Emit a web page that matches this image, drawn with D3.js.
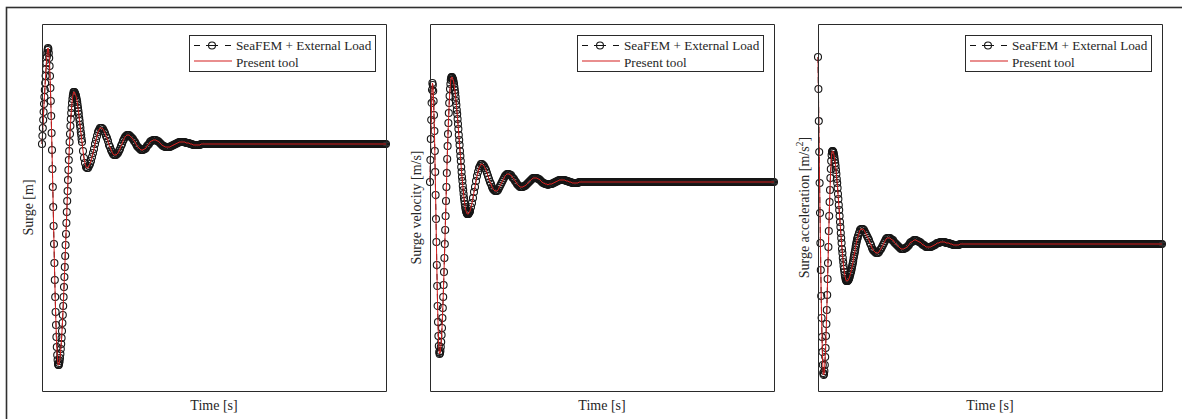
<!DOCTYPE html>
<html>
<head>
<meta charset="utf-8">
<script src="https://cdn.jsdelivr.net/npm/d3@7"></script>
<style>
  body { margin: 0; background: #fff; }
  text { font-family: "Liberation Serif", "Times New Roman", serif; fill: #262626; }
</style>
</head>
<body>
<svg id="chart" width="1182" height="419"></svg>
<script>
// sample times [s]: 0.1 s steps up to 10 s, then 0.25 s steps (8 per row = 2 s)
const time = [
  0,0.1,0.2,0.3,0.4,0.5,0.6,0.7,0.8,0.9,
  1,1.1,1.2,1.3,1.4,1.5,1.6,1.7,1.8,1.9,
  2,2.1,2.2,2.3,2.4,2.5,2.6,2.7,2.8,2.9,
  3,3.1,3.2,3.3,3.4,3.5,3.6,3.7,3.8,3.9,
  4,4.1,4.2,4.3,4.4,4.5,4.6,4.7,4.8,4.9,
  5,5.1,5.2,5.3,5.4,5.5,5.6,5.7,5.8,5.9,
  6,6.1,6.2,6.3,6.4,6.5,6.6,6.7,6.8,6.9,
  7,7.1,7.2,7.3,7.4,7.5,7.6,7.7,7.8,7.9,
  8,8.1,8.2,8.3,8.4,8.5,8.6,8.7,8.8,8.9,
  9,9.1,9.2,9.3,9.4,9.5,9.6,9.7,9.8,9.9,
  10,10.25,10.5,10.75,11,11.25,11.5,11.75,
  12,12.25,12.5,12.75,13,13.25,13.5,13.75,
  14,14.25,14.5,14.75,15,15.25,15.5,15.75,
  16,16.25,16.5,16.75,17,17.25,17.5,17.75,
  18,18.25,18.5,18.75,19,19.25,19.5,19.75,
  20,20.25,20.5,20.75,21,21.25,21.5,21.75,
  22,22.25,22.5,22.75,23,23.25,23.5,23.75,
  24,24.25,24.5,24.75,25,25.25,25.5,25.75,
  26,26.25,26.5,26.75,27,27.25,27.5,27.75,
  28,28.25,28.5,28.75,29,29.25,29.5,29.75,
  30,30.25,30.5,30.75,31,31.25,31.5,31.75,
  32,32.25,32.5,32.75,33,33.25,33.5,33.75,
  34,34.25,34.5,34.75,35,35.25,35.5,35.75,
  36,36.25,36.5,36.75,37,37.25,37.5,37.75,
  38,38.25,38.5,38.75,39,39.25,39.5,39.75,
  40,40.25,40.5,40.75,41,41.25,41.5,41.75,
  42,42.25,42.5,42.75,43,43.25,43.5,43.75,
  44,44.25,44.5,44.75,45,45.25,45.5,45.75,
  46,46.25,46.5,46.75,47,47.25,47.5,47.75,
  48,48.25,48.5,48.75,49,49.25,49.5,49.75,
  50,50.25,50.5,50.75,51,51.25,51.5,51.75,
  52,52.25,52.5,52.75,53,53.25,53.5,53.75,
  54,54.25,54.5,54.75,55,55.25,55.5,55.75,
  56,56.25,56.5,56.75,57,57.25,57.5,57.75,
  58,58.25,58.5,58.75,59,59.25,59.5,59.75,
  60,60.25,60.5,60.75,61,61.25,61.5,61.75,
  62,62.25,62.5,62.75,63,63.25,63.5,63.75,
  64,64.25,64.5,64.75,65,65.25,65.5,65.75,
  66,66.25,66.5,66.75,67,67.25,67.5,67.75,
  68,68.25,68.5,68.75,69,69.25,69.5,69.75,
  70,70.25,70.5,70.75,71,71.25,71.5,71.75,
  72,72.25,72.5,72.75,73,73.25,73.5,73.75,
  74,74.25,74.5,74.75,75,75.25,75.5,75.75,
  76,76.25,76.5,76.75,77,77.25,77.5,77.75,
  78,78.25,78.5,78.75,79,79.25,79.5,79.75,
  80,80.25,80.5,80.75,81,81.25,81.5,81.75,
  82,82.25,82.5,82.75,83,83.25,83.5,83.75,
  84,84.25,84.5,84.75,85,85.25,85.5,85.75,
  86
];

// surge [m]
const surge = [
  0,.08,.16,.24,.32,.40,.47,.54,.61,.68,
  .75,.81,.87,.91,.94,.96,.95,.91,.86,.78,
  .68,.56,.43,.28,.11,-.06,-.25,-.43,-.63,-.82,
  -1.00,-1.19,-1.36,-1.53,-1.68,-1.81,-1.93,-2.03,-2.11,-2.16,
  -2.20,-2.21,-2.21,-2.19,-2.17,-2.14,-2.10,-2.05,-2.00,-1.94,
  -1.87,-1.79,-1.71,-1.62,-1.53,-1.43,-1.33,-1.23,-1.12,-1.01,
  -.90,-.79,-.68,-.57,-.47,-.36,-.26,-.16,-.07,.02,
  .10,.18,.25,.31,.36,.41,.45,.48,.50,.52,
  .52,.52,.51,.50,.49,.48,.46,.44,.42,.39,
  .36,.33,.30,.26,.23,.19,.16,.12,.09,.05,
  .02,-.07,-.14,-.19,-.23,-.24,-.24,-.22,
  -.20,-.17,-.13,-.09,-.05,0,.04,.08,
  .12,.14,.16,.16,.16,.15,.13,.11,
  .08,.06,.03,-.01,-.03,-.06,-.08,-.10,
  -.11,-.11,-.11,-.10,-.09,-.07,-.05,-.02,
  0,.03,.05,.07,.08,.09,.09,.09,
  .08,.07,.06,.05,.03,.02,0,-.02,
  -.03,-.04,-.05,-.06,-.06,-.06,-.05,-.05,
  -.04,-.02,-.01,0,.02,.03,.03,.04,
  .04,.04,.04,.03,.03,.02,.01,0,
  -.01,-.02,-.02,-.03,-.03,-.03,-.03,-.03,
  -.03,-.02,-.02,-.01,-.01,0,0,.01,
  .01,.02,.02,.02,.02,.02,.02,.02,
  .01,.01,.01,.01,0,0,0,-.01,
  -.01,-.01,-.01,-.01,-.01,-.01,-.01,0,
  0,0,0,0,0,0,0,0,
  0,0,0,0,0,0,0,0,
  0,0,0,0,0,0,0,0,
  0,0,0,0,0,0,0,0,
  0,0,0,0,0,0,0,0,
  0,0,0,0,0,0,0,0,
  0,0,0,0,0,0,0,0,
  0,0,0,0,0,0,0,0,
  0,0,0,0,0,0,0,0,
  0,0,0,0,0,0,0,0,
  0,0,0,0,0,0,0,0,
  0,0,0,0,0,0,0,0,
  0,0,0,0,0,0,0,0,
  0,0,0,0,0,0,0,0,
  0,0,0,0,0,0,0,0,
  0,0,0,0,0,0,0,0,
  0,0,0,0,0,0,0,0,
  0,0,0,0,0,0,0,0,
  0,0,0,0,0,0,0,0,
  0,0,0,0,0,0,0,0,
  0,0,0,0,0,0,0,0,
  0,0,0,0,0,0,0,0,
  0,0,0,0,0,0,0,0,
  0
];

// surge velocity [m/s]
const surgeVelocity = [
  0,.22,.43,.62,.79,.92,.99,.97,.91,.81,
  .67,.51,.31,.10,-.13,-.37,-.60,-.83,-1.04,-1.24,
  -1.40,-1.54,-1.64,-1.70,-1.72,-1.71,-1.69,-1.65,-1.60,-1.53,
  -1.46,-1.36,-1.26,-1.15,-1.03,-.90,-.76,-.62,-.48,-.34,
  -.19,-.05,.09,.23,.36,.48,.59,.69,.79,.86,
  .93,.98,1.02,1.04,1.05,1.05,1.04,1.03,1.02,1.00,
  .98,.95,.92,.89,.85,.81,.77,.72,.68,.63,
  .58,.53,.47,.42,.37,.31,.26,.21,.15,.10,
  .05,.01,-.04,-.08,-.12,-.16,-.19,-.22,-.25,-.27,
  -.29,-.30,-.31,-.32,-.32,-.32,-.32,-.31,-.30,-.30,
  -.29,-.25,-.21,-.16,-.10,-.05,.01,.06,
  .10,.14,.16,.18,.18,.17,.16,.14,
  .12,.09,.06,.03,0,-.02,-.05,-.07,
  -.08,-.09,-.09,-.09,-.08,-.06,-.04,-.02,
  0,.02,.04,.06,.07,.08,.08,.08,
  .07,.07,.05,.04,.03,.01,0,-.02,
  -.03,-.04,-.05,-.05,-.05,-.05,-.04,-.04,
  -.03,-.02,-.01,0,.01,.02,.03,.04,
  .04,.04,.04,.04,.03,.03,.02,.01,
  0,-.01,-.01,-.02,-.02,-.02,-.03,-.02,
  -.02,-.02,-.02,-.01,-.01,0,0,.01,
  .01,.02,.02,.02,.02,.02,.02,.02,
  .01,.01,.01,0,0,0,-.01,-.01,
  -.01,-.01,-.01,-.01,-.01,0,0,0,
  0,0,0,0,0,0,0,0,
  0,0,0,0,0,0,0,0,
  0,0,0,0,0,0,0,0,
  0,0,0,0,0,0,0,0,
  0,0,0,0,0,0,0,0,
  0,0,0,0,0,0,0,0,
  0,0,0,0,0,0,0,0,
  0,0,0,0,0,0,0,0,
  0,0,0,0,0,0,0,0,
  0,0,0,0,0,0,0,0,
  0,0,0,0,0,0,0,0,
  0,0,0,0,0,0,0,0,
  0,0,0,0,0,0,0,0,
  0,0,0,0,0,0,0,0,
  0,0,0,0,0,0,0,0,
  0,0,0,0,0,0,0,0,
  0,0,0,0,0,0,0,0,
  0,0,0,0,0,0,0,0,
  0,0,0,0,0,0,0,0,
  0,0,0,0,0,0,0,0,
  0,0,0,0,0,0,0,0,
  0,0,0,0,0,0,0,0,
  0,0,0,0,0,0,0,0,
  0,0,0,0,0,0,0,0,
  0
];

// surge acceleration [m/s^2]
const surgeAcceleration = [
  1.87,1.55,1.23,.92,.61,.31,.01,-.26,-.52,-.74,
  -.93,-1.08,-1.21,-1.29,-1.31,-1.30,-1.27,-1.21,-1.13,-1.04,
  -.92,-.80,-.66,-.51,-.35,-.19,-.03,.13,.28,.42,
  .54,.66,.75,.83,.89,.92,.93,.93,.92,.91,
  .89,.87,.84,.81,.78,.74,.70,.65,.61,.56,
  .50,.45,.39,.34,.28,.22,.17,.11,.06,.01,
  -.05,-.09,-.14,-.18,-.22,-.25,-.28,-.31,-.33,-.35,
  -.36,-.37,-.37,-.37,-.37,-.36,-.36,-.35,-.34,-.33,
  -.31,-.30,-.28,-.27,-.25,-.23,-.21,-.19,-.17,-.14,
  -.12,-.10,-.08,-.06,-.03,-.01,.01,.03,.05,.06,
  .08,.11,.14,.15,.15,.15,.14,.12,
  .10,.08,.06,.04,.01,-.01,-.04,-.06,
  -.07,-.08,-.09,-.09,-.09,-.08,-.06,-.05,
  -.03,-.01,.01,.03,.05,.06,.06,.06,
  .06,.05,.04,.04,.02,.01,0,-.01,
  -.02,-.03,-.04,-.05,-.05,-.05,-.05,-.04,
  -.04,-.03,-.02,-.01,.01,.02,.02,.03,
  .04,.04,.04,.03,.03,.02,.02,.01,
  0,-.01,-.01,-.02,-.03,-.03,-.03,-.03,
  -.03,-.03,-.02,-.02,-.01,-.01,0,.01,
  .01,.01,.02,.02,.02,.02,.02,.02,
  .01,.01,.01,.01,0,0,0,-.01,
  -.01,-.01,-.01,-.01,-.01,-.01,0,0,
  0,0,0,0,0,0,0,0,
  0,0,0,0,0,0,0,0,
  0,0,0,0,0,0,0,0,
  0,0,0,0,0,0,0,0,
  0,0,0,0,0,0,0,0,
  0,0,0,0,0,0,0,0,
  0,0,0,0,0,0,0,0,
  0,0,0,0,0,0,0,0,
  0,0,0,0,0,0,0,0,
  0,0,0,0,0,0,0,0,
  0,0,0,0,0,0,0,0,
  0,0,0,0,0,0,0,0,
  0,0,0,0,0,0,0,0,
  0,0,0,0,0,0,0,0,
  0,0,0,0,0,0,0,0,
  0,0,0,0,0,0,0,0,
  0,0,0,0,0,0,0,0,
  0,0,0,0,0,0,0,0,
  0,0,0,0,0,0,0,0,
  0,0,0,0,0,0,0,0,
  0,0,0,0,0,0,0,0,
  0,0,0,0,0,0,0,0,
  0,0,0,0,0,0,0,0,
  0,0,0,0,0,0,0,0,
  0,0,0,0,0,0,0,0,
  0
];

const timeRange = [0, 86];
const yRanges = [[-2.47, 1.20], [-2.09, 1.58], [-1.47, 2.20]];
const yLabels = ["Surge [m]", "Surge velocity [m/s]", "Surge acceleration [m/s²]"];
const xLabel = "Time [s]";
const legendLabels = ["SeaFEM + External Load", "Present tool"];

const seriesList = [surge, surgeVelocity, surgeAcceleration];
const panelLeft = [42, 430, 818];
const panelTop = 24, panelW = 344, panelH = 367;
const red = "#d41f1f";

const svg = d3.select("#chart");

// outer frame of the figure
svg.append("rect")
    .attr("x", 6.5).attr("y", 7.5)
    .attr("width", 1200).attr("height", 440)
    .attr("fill", "none")
    .attr("stroke", "#303030")
    .attr("stroke-width", 1.6);

seriesList.forEach((vals, p) => {
    const g = svg.append("g")
        .attr("transform", "translate(" + panelLeft[p] + "," + panelTop + ")");

    const x = d3.scaleLinear().domain(timeRange).range([0, panelW]);
    const y = d3.scaleLinear().domain(yRanges[p]).range([panelH, 0]);

    const pts = time.map((t, i) => ({t: t, v: vals[i]}))
        .filter(d => d.v !== undefined);

    const line = d3.line().x(d => x(d.t)).y(d => y(d.v));

    // SeaFEM + External Load: dashed black line with open circles
    g.append("path")
        .datum(pts)
        .attr("d", line)
        .attr("fill", "none")
        .attr("stroke", "#111")
        .attr("stroke-dasharray", "6,4");

    g.append("g")
        .selectAll("circle")
        .data(pts)
        .join("circle")
        .attr("cx", d => x(d.t))
        .attr("cy", d => y(d.v))
        .attr("r", 3.5)
        .attr("fill", "none")
        .attr("stroke", "#161616")
        .attr("stroke-width", 1.1);

    // Present tool: red solid line
    g.append("path")
        .datum(pts)
        .attr("d", line)
        .attr("fill", "none")
        .attr("stroke", red)
        .attr("stroke-width", 1);

    // box: axes with no ticks
    const axes = [
        [d3.axisBottom(x), "translate(0," + panelH + ")"],
        [d3.axisTop(x), "translate(0,0)"],
        [d3.axisLeft(y), "translate(0,0)"],
        [d3.axisRight(y), "translate(" + panelW + ",0)"]
    ];
    axes.forEach(a => {
        g.append("g")
            .attr("transform", a[1])
            .call(a[0].tickValues([]).tickSizeOuter(0))
            .select(".domain")
            .attr("stroke", "#2a2a2a");
    });

    // axis labels
    g.append("text")
        .attr("x", panelW / 2)
        .attr("y", panelH + 19)
        .attr("text-anchor", "middle")
        .attr("font-size", 14)
        .text(xLabel);

    const yl = g.append("text")
        .attr("transform", "translate(-9.5," + (panelH / 2) + ")rotate(-90)")
        .attr("text-anchor", "middle")
        .attr("font-size", 14);
    const parts = yLabels[p].split("²");
    yl.append("tspan").text(parts[0]);
    if (parts.length > 1) {
        yl.append("tspan").attr("dy", -6).attr("font-size", 10).text("2");
        yl.append("tspan").attr("dy", 6).text(parts[1]);
    }

    // legend
    const lw = 186, lh = 36;
    const lg = g.append("g")
        .attr("transform", "translate(" + (panelW - 11 - lw) + ",11)");
    lg.append("rect")
        .attr("x", 0.5).attr("y", 0.5)
        .attr("width", lw).attr("height", lh)
        .attr("fill", "#fff")
        .attr("stroke", "#2a2a2a");
    lg.append("line")
        .attr("x1", 5).attr("x2", 42).attr("y1", 10.5).attr("y2", 10.5)
        .attr("stroke", "#111")
        .attr("stroke-dasharray", "6,6,12,7,6");
    lg.append("circle")
        .attr("cx", 23).attr("cy", 10.5).attr("r", 3.5)
        .attr("fill", "none").attr("stroke", "#161616").attr("stroke-width", 1.1);
    lg.append("line")
        .attr("x1", 5).attr("x2", 43).attr("y1", 26).attr("y2", 26)
        .attr("stroke", red)
        .attr("stroke-width", 1.2);
    lg.selectAll("text.lab")
        .data(legendLabels)
        .join("text")
        .attr("class", "lab")
        .attr("x", 47)
        .attr("y", (d, i) => 15 + i * 17)
        .attr("font-size", 13.2)
        .text(d => d);
});
</script>
</body>
</html>
